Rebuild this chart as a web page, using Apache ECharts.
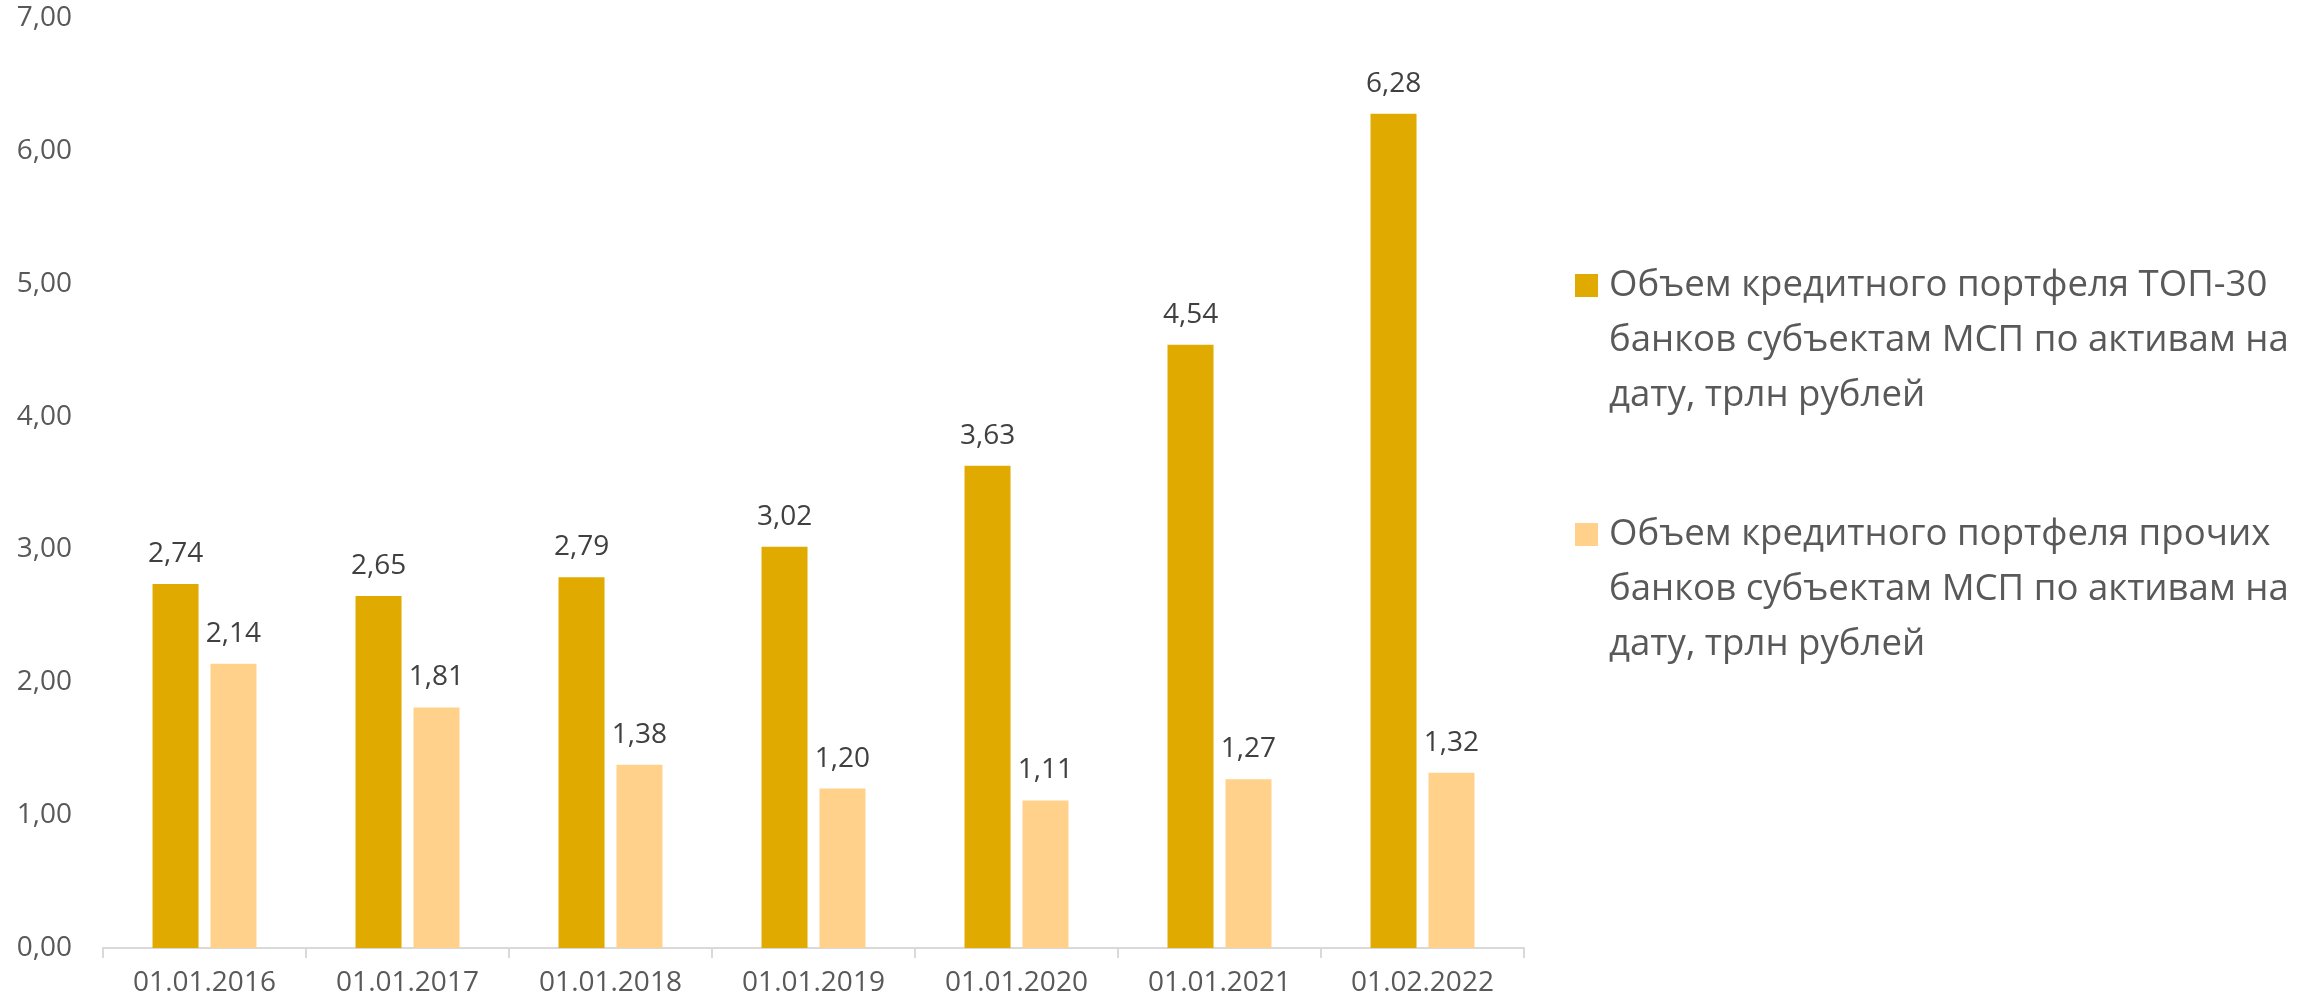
<!DOCTYPE html>
<html>
<head>
<meta charset="utf-8">
<style>
  html, body { margin: 0; padding: 0; background: #ffffff; }
  #chart { width: 2318px; height: 1005px; }
</style>
<script src="https://cdn.jsdelivr.net/npm/echarts@6/dist/echarts.min.js"></script>
</head>
<body>
<div id="chart"></div>
<script>
const categories = ['01.01.2016', '01.01.2017', '01.01.2018', '01.01.2019', '01.01.2020', '01.01.2021', '01.02.2022'];
const top30Values = [2.74, 2.65, 2.79, 3.02, 3.63, 4.54, 6.28];
const otherValues = [2.14, 1.81, 1.38, 1.20, 1.11, 1.27, 1.32];
const seriesNames = [
  'Объем кредитного портфеля ТОП-30 банков субъектам МСП по активам на дату, трлн рублей',
  'Объем кредитного портфеля прочих банков субъектам МСП по активам на дату, трлн рублей'
];
const legendLines = [
  ['Объем кредитного портфеля ТОП-30', 'банков субъектам МСП по активам на', 'дату, трлн рублей'],
  ['Объем кредитного портфеля прочих', 'банков субъектам МСП по активам на', 'дату, трлн рублей']
];
const colors = ['#E1AA00', '#FFD18A'];

const fmt = v => Number(v).toFixed(2).replace('.', ',');
const FONT = '"Open Sans", "DejaVu Sans", sans-serif';

// legend icon: square aligned with the first text line (tiny corner points stretch the box to the full 3-line height)
const LEGEND_ICON = 'path://M0,0h0.01v0.01h-0.01Z M0,16h23v23h-23Z M0,164.99h0.01v0.01h-0.01Z';

const chart = echarts.init(document.getElementById('chart'), null, { renderer: 'canvas' });

chart.setOption({
  animation: false,
  backgroundColor: '#ffffff',
  color: colors,
  textStyle: { fontFamily: FONT },
  grid: { left: 103, right: 794, top: 18, bottom: 57, containLabel: false },
  legend: {
    show: true,
    orient: 'vertical',
    left: 1570,
    top: 253,
    itemGap: 84,
    data: seriesNames,
    icon: LEGEND_ICON,
    itemWidth: 23,
    itemHeight: 165,
    selectedMode: false,
    formatter: name => legendLines[seriesNames.indexOf(name)].join('\n'),
    textStyle: {
      fontFamily: FONT,
      fontSize: 36.6,
      color: '#595959',
      lineHeight: 55,
      padding: [0, 0, 0, 6]
    }
  },
  xAxis: {
    type: 'category',
    data: categories,
    axisLine: { show: true, lineStyle: { color: '#D9D9D9', width: 2 } },
    axisTick: { show: true, length: 10, lineStyle: { color: '#D9D9D9', width: 2 } },
    axisLabel: { fontFamily: FONT, fontSize: 28, color: '#595959', margin: 21 },
    splitLine: { show: false }
  },
  yAxis: {
    type: 'value',
    min: 0,
    max: 7,
    interval: 1,
    axisLine: { show: false },
    axisTick: { show: false },
    splitLine: { show: false },
    axisLabel: { fontFamily: FONT, fontSize: 28, color: '#595959', margin: 31, formatter: fmt }
  },
  series: [
    {
      name: seriesNames[0],
      type: 'bar',
      data: top30Values,
      barWidth: 46,
      barGap: '26%',
      itemStyle: { color: colors[0] },
      label: { show: true, position: 'top', distance: 16, fontFamily: FONT, fontSize: 28, color: '#404040', formatter: p => fmt(p.value) }
    },
    {
      name: seriesNames[1],
      type: 'bar',
      data: otherValues,
      barWidth: 46,
      barGap: '26%',
      itemStyle: { color: colors[1] },
      label: { show: true, position: 'top', distance: 16, fontFamily: FONT, fontSize: 28, color: '#404040', formatter: p => fmt(p.value) }
    }
  ]
});
</script>
</body>
</html>
